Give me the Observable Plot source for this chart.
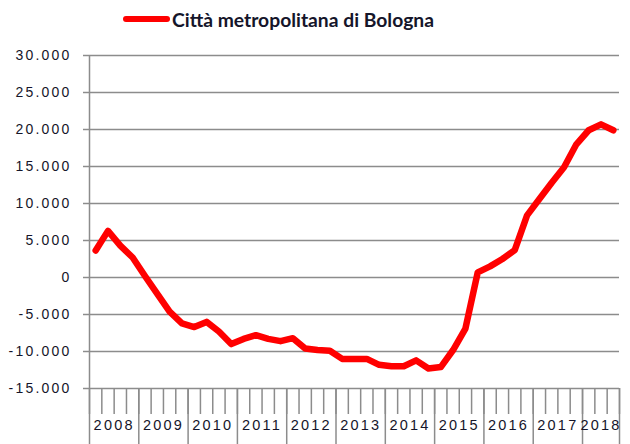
<!DOCTYPE html>
<html><head><meta charset="utf-8">
<script src="https://cdn.jsdelivr.net/npm/d3@7"></script>
<script src="https://cdn.jsdelivr.net/npm/@observablehq/plot@0.6"></script>
<style>
body{margin:0;background:#fff;}
#legend{height:40px;position:relative;}
#legend .sw{position:absolute;left:123px;top:16px;width:47px;height:6px;border-radius:3px;background:#ff0000;}
#legend .lab{position:absolute;left:172px;top:10px;font:bold 19.3px Lato;line-height:19px;color:#15152a;white-space:nowrap;}
#chart svg text{letter-spacing:2.2px;}
</style></head>
<body>
<div id="legend"><span class="sw"></span><span class="lab" id="lab"></span></div>
<div id="chart"></div>
<script>
const seriesName = "Città metropolitana di Bologna";
const years = ["2008","2009","2010","2011","2012","2013","2014","2015","2016","2017","2018"];
const quartersPerYear = [4,4,4,4,4,4,4,4,4,4,3];
const values = [
  3650, 6300, 4300, 2700,
  200, -2200, -4600, -6200,
  -6700, -6000, -7300, -9000,
  -8300, -7800, -8300, -8600,
  -8200, -9600, -9800, -9900,
  -11000, -11000, -11000, -11800,
  -12000, -12000, -11200, -12300,
  -12100, -9800, -6900, 700,
  1500, 2500, 3700, 8400,
  10600, 12800, 14900, 18000,
  19900, 20700, 19900
];
const yTicks = [-15000,-10000,-5000,0,5000,10000,15000,20000,25000,30000];

document.getElementById("lab").textContent = seriesName;

const nQ = values.length;
const data = values.map((v,i)=>({x:i+0.5, v}));
const bounds = [0];
const centers = [];
const labelAt = new Map();
let acc = 0;
quartersPerYear.forEach((q,k)=>{ centers.push(acc+q/2); labelAt.set(acc+q/2, years[k]); acc+=q; bounds.push(acc); });

const fmt = d3.formatLocale({thousands:".", decimal:",", grouping:[3], currency:["",""], minus:"-"}).format(",");
const grid = "#8c8c8c";

const chart = Plot.plot({
  width:630, height:404,
  marginTop:15, marginBottom:56, marginLeft:89, marginRight:11,
  style:{fontFamily:"Liberation Sans, Arial, sans-serif", fontSize:"14px", color:"#15152a", background:"#fff"},
  x:{domain:[0,nQ]},
  y:{domain:[-15000,30000]},
  marks:[
    Plot.ruleY(yTicks,{stroke:grid, strokeWidth:1.5}),
    Plot.ruleX([0],{stroke:grid, strokeWidth:1.5}),
    Plot.axisY({ticks:yTicks, tickSize:6, tickPadding:12, tickFormat:fmt, label:null, fontSize:14, stroke:grid, strokeWidth:1.5, fill:"#15152a"}),
    Plot.axisX({ticks:d3.range(nQ+1), tickSize:26, tickFormat:()=>"", label:null, stroke:grid, strokeWidth:1.5}),
    Plot.axisX({ticks:bounds, tickSize:56, tickFormat:()=>"", label:null, stroke:grid, strokeWidth:1.5}),
    Plot.axisX({ticks:centers, tickSize:0, tickPadding:31, tickFormat:d=>labelAt.get(d), label:null, fontSize:14.5, fill:"#15152a"}),
    Plot.line(data,{x:"x", y:"v", stroke:"#ff0000", strokeWidth:6.5, strokeLinejoin:"round", strokeLinecap:"round"})
  ]
});
document.getElementById("chart").appendChild(chart);
</script>
</body></html>
